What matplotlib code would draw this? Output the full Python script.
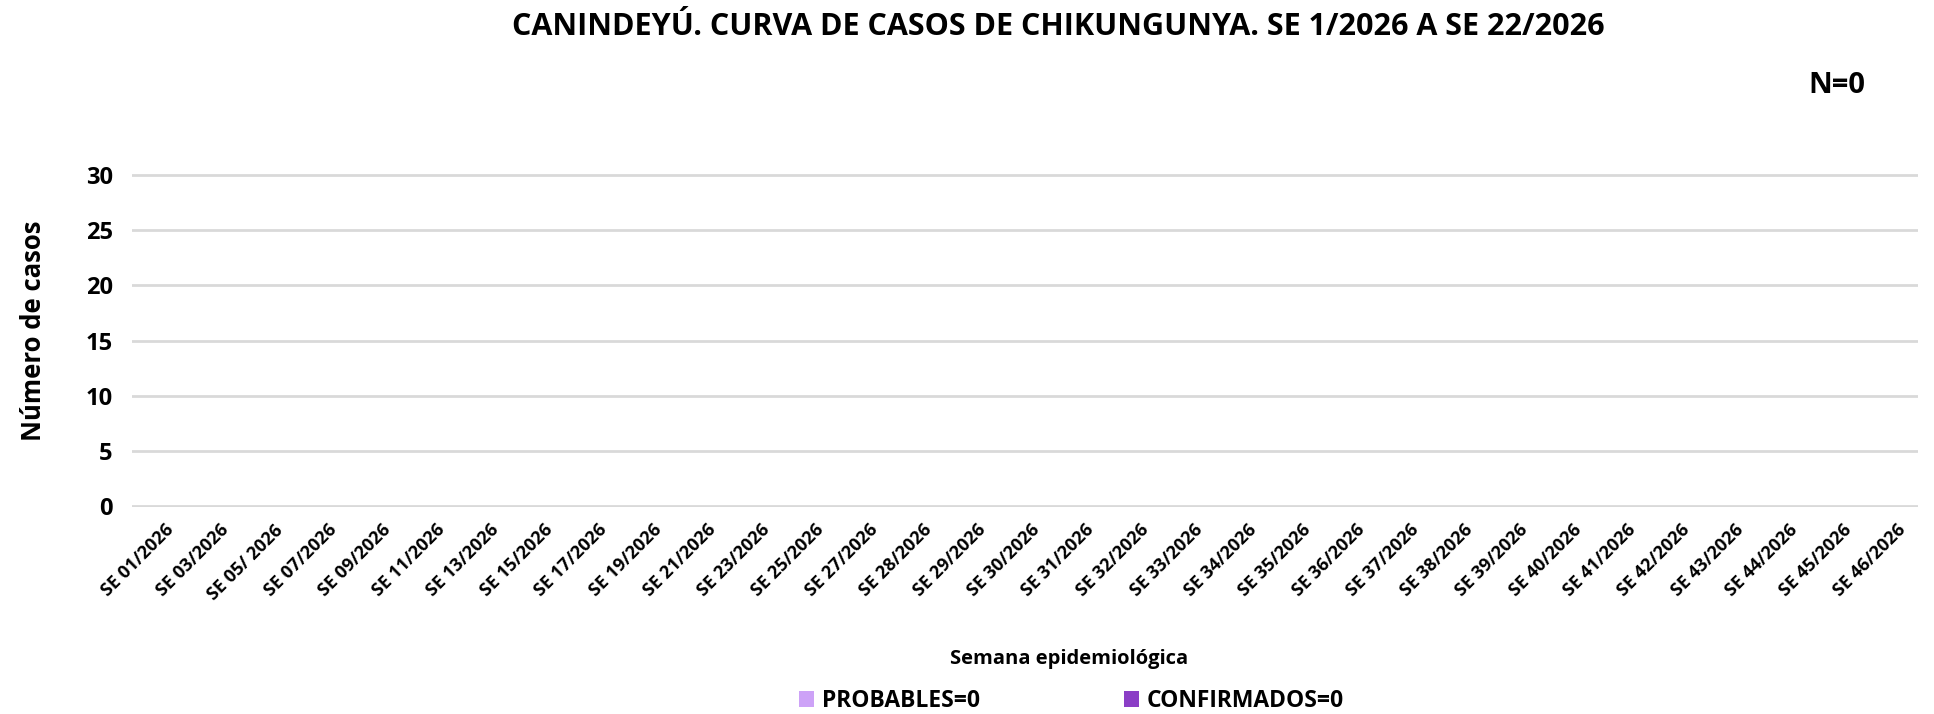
import matplotlib
matplotlib.use("Agg")
import matplotlib.pyplot as plt
import matplotlib.transforms as mtransforms
import numpy as np

plt.rcParams["font.family"] = ["Open Sans", "DejaVu Sans"]

# ── data ─────────────────────────────────────────────
weeks = ["SE 01/2026", "SE 03/2026", "SE 05/ 2026", "SE 07/2026", "SE 09/2026",
         "SE 11/2026", "SE 13/2026", "SE 15/2026", "SE 17/2026", "SE 19/2026",
         "SE 21/2026", "SE 23/2026", "SE 25/2026", "SE 27/2026", "SE 28/2026",
         "SE 29/2026", "SE 30/2026", "SE 31/2026", "SE 32/2026", "SE 33/2026",
         "SE 34/2026", "SE 35/2026", "SE 36/2026", "SE 37/2026", "SE 38/2026",
         "SE 39/2026", "SE 40/2026", "SE 41/2026", "SE 42/2026", "SE 43/2026",
         "SE 44/2026", "SE 45/2026", "SE 46/2026"]
probables = [0] * len(weeks)
confirmados = [0] * len(weeks)
yticks = [0, 5, 10, 15, 20, 25, 30]

col_prob = "#CDA2F7"
col_conf = "#8B3EC6"

fig = plt.figure(figsize=(19.34, 7.14), dpi=100)
fig.patch.set_facecolor("white")
ax = fig.add_axes([0.0683, 0.2899, 0.9917 - 0.0683, 0.7563 - 0.2899])

x = np.arange(len(weeks))
b1 = ax.bar(x, probables, width=0.6, color=col_prob,
            label=f"PROBABLES={sum(probables)}")
b2 = ax.bar(x, confirmados, width=0.6, bottom=probables, color=col_conf,
            label=f"CONFIRMADOS={sum(confirmados)}")

ax.set_xlim(-0.5, len(weeks) - 0.5)
ax.set_ylim(-0.1, 30.1)
ax.set_yticks(yticks)
ax.set_yticklabels([str(v) for v in yticks], fontsize=17, fontweight="bold")
ax.set_xticks(x)
ax.set_xticklabels(weeks, rotation=45, ha="right", rotation_mode="anchor",
                   fontsize=13, fontweight="bold")
ax.tick_params(axis="y", length=0, pad=14)
ax.tick_params(axis="x", length=0, pad=10)
# nudge rotated labels a bit to the right, like the original
shift = mtransforms.ScaledTranslation(6 / 100, 0, fig.dpi_scale_trans)
for lab in ax.get_xticklabels():
    lab.set_transform(lab.get_transform() + shift)
for s in ax.spines.values():
    s.set_visible(False)
ax.yaxis.grid(True, color="#D9D9D9", lw=2)
ax.set_axisbelow(True)

ax.set_ylabel("Número de casos", fontsize=18.5, fontweight="bold", va="center")
ax.yaxis.set_label_coords(-0.055, 0.53)

fig.text(0.547, 0.962, "CANINDEYÚ. CURVA DE CASOS DE CHIKUNGUNYA. SE 1/2026 A SE 22/2026",
         ha="center", va="center", fontsize=22, fontweight="bold")
fig.text(0.950, 0.880, f"N={sum(probables) + sum(confirmados)}",
         ha="center", va="center", fontsize=21, fontweight="bold")
fig.text(0.553, 0.077, "Semana epidemiológica", ha="center", va="center",
         fontsize=14.5, fontweight="bold")

fig.legend(handles=[b1, b2], loc="center", bbox_to_anchor=(0.554, 0.018),
           ncol=2, frameon=False, prop={"size": 16.5, "weight": "bold"},
           handlelength=0.65, handleheight=0.65, handletextpad=0.35,
           columnspacing=6.3)

plt.savefig("out.png", dpi=100, facecolor="white")
